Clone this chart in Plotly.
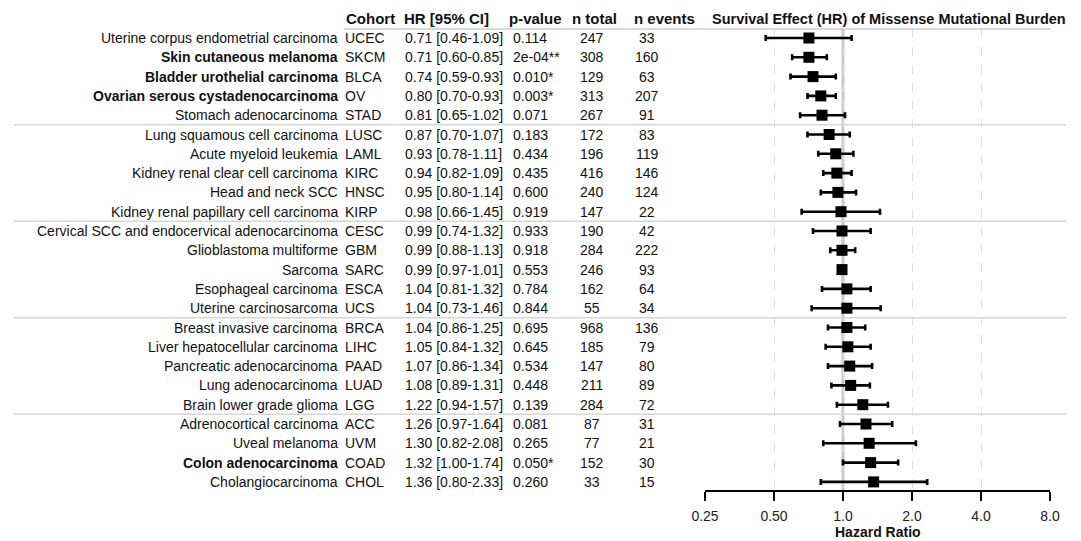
import plotly.graph_objects as go

# ---------------- data ----------------
names = [
    "Uterine corpus endometrial carcinoma", "Skin cutaneous melanoma",
    "Bladder urothelial carcinoma", "Ovarian serous cystadenocarcinoma",
    "Stomach adenocarcinoma", "Lung squamous cell carcinoma",
    "Acute myeloid leukemia", "Kidney renal clear cell carcinoma",
    "Head and neck SCC", "Kidney renal papillary cell carcinoma",
    "Cervical SCC and endocervical adenocarcinoma", "Glioblastoma multiforme",
    "Sarcoma", "Esophageal carcinoma", "Uterine carcinosarcoma",
    "Breast invasive carcinoma", "Liver hepatocellular carcinoma",
    "Pancreatic adenocarcinoma", "Lung adenocarcinoma", "Brain lower grade glioma",
    "Adrenocortical carcinoma", "Uveal melanoma", "Colon adenocarcinoma",
    "Cholangiocarcinoma",
]
cohorts = ["UCEC", "SKCM", "BLCA", "OV", "STAD", "LUSC", "LAML", "KIRC", "HNSC",
           "KIRP", "CESC", "GBM", "SARC", "ESCA", "UCS", "BRCA", "LIHC", "PAAD",
           "LUAD", "LGG", "ACC", "UVM", "COAD", "CHOL"]
hr = [0.71, 0.71, 0.74, 0.80, 0.81, 0.87, 0.93, 0.94, 0.95, 0.98, 0.99, 0.99,
      0.99, 1.04, 1.04, 1.04, 1.05, 1.07, 1.08, 1.22, 1.26, 1.30, 1.32, 1.36]
ci_low = [0.46, 0.60, 0.59, 0.70, 0.65, 0.70, 0.78, 0.82, 0.80, 0.66, 0.74, 0.88,
          0.97, 0.81, 0.73, 0.86, 0.84, 0.86, 0.89, 0.94, 0.97, 0.82, 1.00, 0.80]
ci_high = [1.09, 0.85, 0.93, 0.93, 1.02, 1.07, 1.11, 1.09, 1.14, 1.45, 1.32, 1.13,
           1.01, 1.32, 1.46, 1.25, 1.32, 1.34, 1.31, 1.57, 1.64, 2.08, 1.74, 2.33]
pvalues = ["0.114", "2e-04**", "0.010*", "0.003*", "0.071", "0.183", "0.434",
           "0.435", "0.600", "0.919", "0.933", "0.918", "0.553", "0.784", "0.844",
           "0.695", "0.645", "0.534", "0.448", "0.139", "0.081", "0.265", "0.050*",
           "0.260"]
n_total = [247, 308, 129, 313, 267, 172, 196, 416, 240, 147, 190, 284, 246, 162,
           55, 968, 185, 147, 211, 284, 87, 77, 152, 33]
n_events = [33, 160, 63, 207, 91, 83, 119, 146, 124, 22, 42, 222, 93, 64, 34,
            136, 79, 80, 89, 72, 31, 21, 30, 15]
significant = [False, True, True, True, False, False, False, False, False, False,
               False, False, False, False, False, False, False, False, False, False,
               False, False, True, False]
tick_vals = [0.25, 0.5, 1.0, 2.0, 4.0, 8.0]
tick_text = ["0.25", "0.50", "1.0", "2.0", "4.0", "8.0"]
headers = ["Cohort", "HR [95% CI]", "p-value", "n total", "n events"]
plot_title = "Survival Effect (HR) of Missense Mutational Burden"
group_size = 5

# ---------------- layout geometry (pixels) ----------------
W, H = 1081, 541
PL, PR = 705, 1050      # plot area x
PT, PB = 29, 490        # plot area y
ROW0, ROWSTEP = 38, 19.3

def px(x):
    return (x - PL) / (PR - PL)

def py(y):
    return (PB - y) / (PB - PT)

n = len(hr)
rows = list(range(n))
ytop = -(ROW0 - PT) / ROWSTEP
ybot = (n - 1) + (PB - (ROW0 + ROWSTEP * (n - 1))) / ROWSTEP

FONT = "Liberation Sans, Arial, sans-serif"
TXT = "#111111"

fig = go.Figure()

fig.add_trace(go.Scatter(
    x=hr, y=rows, mode="markers",
    marker=dict(symbol="square", size=11, color="black"),
    error_x=dict(type="data", symmetric=False,
                 array=[h - m for h, m in zip(ci_high, hr)],
                 arrayminus=[m - l for m, l in zip(hr, ci_low)],
                 color="black", thickness=2.6, width=3),
    hoverinfo="skip", showlegend=False, cliponaxis=False,
))

ann = []
col_x = {"name": 340, "code": 343, "hr": 403, "p": 511, "nt": 592, "ne": 647}
for i in rows:
    nm = f"<b>{names[i]}</b>" if significant[i] else names[i]
    ann.append(dict(x=px(col_x["name"]), y=i, text=nm, xanchor="right"))
    ann.append(dict(x=px(col_x["code"]), y=i, text=cohorts[i], xanchor="left"))
    ann.append(dict(x=px(col_x["hr"]), y=i,
                    text=f"{hr[i]:.2f} [{ci_low[i]:.2f}-{ci_high[i]:.2f}]",
                    xanchor="left"))
    ann.append(dict(x=px(col_x["p"]), y=i, text=pvalues[i], xanchor="left"))
    ann.append(dict(x=px(col_x["nt"]), y=i, text=str(n_total[i]), xanchor="center"))
    ann.append(dict(x=px(col_x["ne"]), y=i, text=str(n_events[i]), xanchor="center"))
for a in ann:
    a.update(xref="paper", yref="y", yanchor="middle", showarrow=False,
             font=dict(family=FONT, size=14, color=TXT))

HDR_Y = 19
hdr_x = [344, 402, 507, 570, 632]
for hx, ht in zip(hdr_x, headers):
    ann.append(dict(x=px(hx), y=py(HDR_Y), xref="paper", yref="paper",
                    text=f"<b>{ht}</b>", xanchor="left", yanchor="middle",
                    showarrow=False, font=dict(family=FONT, size=15, color=TXT)))
ann.append(dict(x=px(710), y=py(HDR_Y), xref="paper", yref="paper",
                text=f"<b>{plot_title}</b>", xanchor="left", yanchor="middle",
                showarrow=False, font=dict(family=FONT, size=14.5, color=TXT)))
ann.append(dict(x=0.5, y=py(532), xref="paper", yref="paper",
                text="<b>Hazard Ratio</b>", xanchor="center", yanchor="middle",
                showarrow=False, font=dict(family=FONT, size=14, color=TXT)))

shapes = []
# header underline
shapes.append(dict(type="line", xref="paper", yref="paper", x0=px(344), x1=px(1051),
                   y0=1, y1=1, line=dict(color="#b5b5b5", width=1)))
# group separators
for g in range(group_size, n, group_size):
    shapes.append(dict(type="line", xref="paper", yref="y", x0=px(14), x1=px(1066),
                       y0=g - 0.5, y1=g - 0.5, line=dict(color="#d6d6d6", width=1.5)))
# reference line at HR = 1
shapes.append(dict(type="line", xref="x", yref="paper", x0=1, x1=1, y0=0, y1=1,
                   line=dict(color="#c8c8c8", width=3), layer="below"))

fig.update_layout(
    width=W, height=H,
    margin=dict(l=PL, r=W - PR, t=PT, b=H - PB, pad=0),
    paper_bgcolor="white", plot_bgcolor="white",
    font=dict(family=FONT, size=14, color=TXT),
    annotations=ann, shapes=shapes,
    xaxis=dict(type="log", range=[-0.60206, 0.90309], tickvals=tick_vals,
               ticktext=tick_text, showgrid=True, gridcolor="#dedede",
               griddash="dash", gridwidth=1, zeroline=False,
               showline=True, linecolor="black", linewidth=1.5,
               ticks="outside", ticklen=9, tickwidth=1.5, tickcolor="black",
               ticklabelstandoff=3,
               tickfont=dict(family=FONT, size=14, color="#222222"),
               fixedrange=True),
    yaxis=dict(range=[ybot, ytop], showgrid=False, zeroline=False,
               showticklabels=False, showline=False, fixedrange=True),
)

fig.write_html(
    "out.html",
    config={"displayModeBar": False},
    post_script="document.body.style.margin='0px';document.body.style.padding='0px';",
)
